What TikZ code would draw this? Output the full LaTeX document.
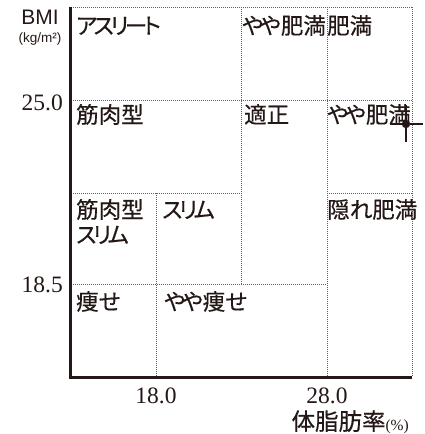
\documentclass[tikz,border=0pt]{standalone}
\usepackage{fontspec}
\setmainfont{Liberation Serif}
\setsansfont{Liberation Sans}
\newfontfamily\jpfont[Script=CJK,RawFeature=+palt,FakeBold=0.4]{Noto Sans CJK JP}
\newfontfamily\kana[Script=CJK,RawFeature=+palt,FakeBold=0.4,LetterSpace=-16]{Noto Sans CJK JP}
\definecolor{ink}{HTML}{231815}

\begin{document}
\begin{tikzpicture}[x=1pt,y=-1pt,
    axisline/.style={ink,line width=2.4pt},
    cellline/.style={ink!70,line width=0.9pt,dash pattern=on 1pt off 1pt},
    cell/.style={anchor=base west,inner sep=0pt,align=left,
      font=\jpfont\fontsize{22.5}{25}\selectfont,text=ink},
    tick/.style={inner sep=0pt,font=\fontsize{23.5}{26}\selectfont,text=ink}]
  \useasboundingbox (0,0) rectangle (424,434);

  % dotted cell borders
  \draw[cellline] (71,7) -- (412,7);
  \draw[cellline] (71,100) -- (412,100);
  \draw[cellline] (71,193) -- (241,193);
  \draw[cellline] (327,193) -- (412,193);
  \draw[cellline] (71,284) -- (327,284);
  \draw[cellline] (156,193) -- (156,377);
  \draw[cellline] (241,7) -- (241,284);
  \draw[cellline] (327,7) -- (327,377);
  \draw[cellline] (412,7) -- (412,377);

  % axes
  \draw[axisline] (70.5,7) -- (70.5,377.5);
  \draw[axisline] (69,377.5) -- (412,377.5);

  \node[tick,anchor=base] (bmi) at (40,24) {\sffamily\fontsize{21}{24}\selectfont BMI};
  \node[tick,anchor=base] (bmiunit) at (40,42) {\sffamily\fontsize{13.5}{15}\selectfont (kg/m²)};
  \node[tick,anchor=base east] (b25) at (63,110) {25.0};
  \node[tick,anchor=base east] (b185) at (63,292) {18.5};
  \node[tick,anchor=base] (f18) at (156,403) {18.0};
  \node[tick,anchor=base] (f28) at (327,403) {28.0};
  \node[tick,anchor=base east] (fat) at (409,430)
    {{\jpfont\fontsize{23.5}{26}\selectfont 体脂肪率}{\fontsize{15.5}{18}\selectfont (\%)}};

  % cell labels
  \node[cell] (athlete) at (76,34) {{\kana アスリート}};
  \node[cell] (overtop) at (242,34) {{\kana やや}肥満};
  \node[cell] (obese) at (327,34) {肥満};
  \node[cell] (muscle) at (76,123) {筋肉型};
  \node[cell] (normal) at (244,123) {適正};
  \node[cell] (overmid) at (327,123) {{\kana やや}肥満};
  \node[cell] (muscleslim) at (76,243) {筋肉型\\{\kana スリム}};
  \node[cell] (slim) at (162,218) {{\kana スリム}};
  \node[cell] (hidden) at (327,218) {隠{\kana れ}肥満};
  \node[cell] (thin) at (76,310) {痩{\kana せ}};
  \node[cell] (slightthin) at (164,310) {{\kana やや}痩{\kana せ}};

  % marker
  \coordinate (mark) at (406,124);
  \draw[ink,line width=2.2pt] ([xshift=-16pt]mark) -- ([xshift=17pt]mark);
  \draw[ink,line width=2.2pt] ([yshift=19pt]mark) -- ([yshift=-18pt]mark);
  \fill[ink] (mark) circle[radius=4.2pt];
\end{tikzpicture}
\end{document}
